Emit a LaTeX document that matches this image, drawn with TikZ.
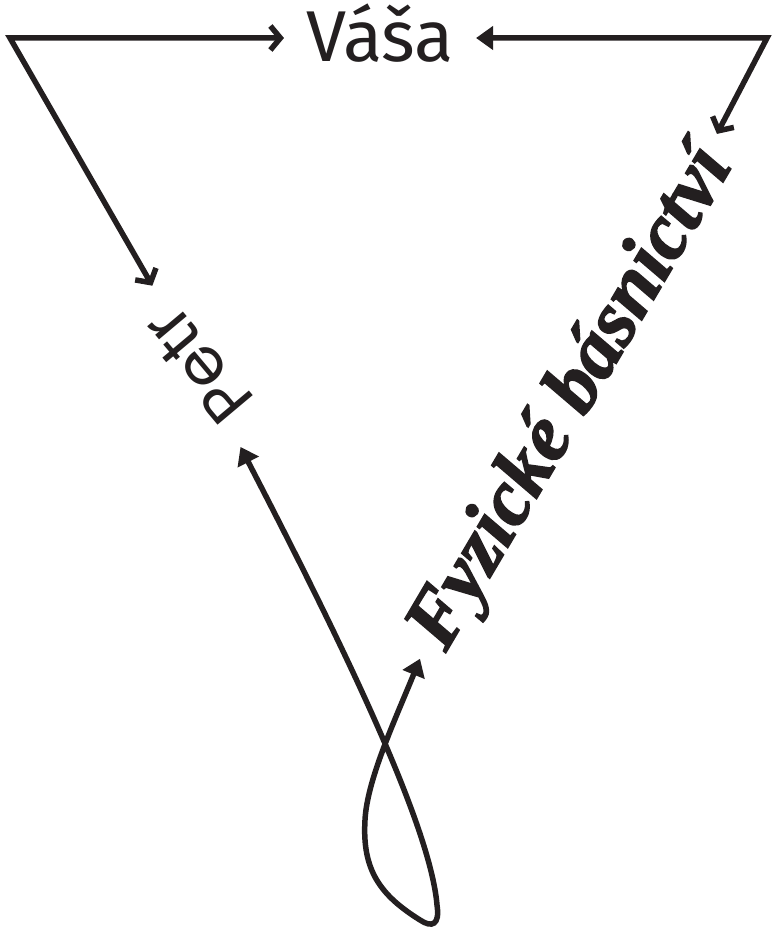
\documentclass[tikz,border=0pt]{standalone}
\usepackage{fontspec}
\usepackage{graphicx}
\usetikzlibrary{arrows.meta}
\newfontfamily\vasafont{Fira Sans}
\newfontfamily\petrfont{Poppins}
\newfontfamily\fyzfont{Liberation Serif}[BoldItalicFeatures={FakeBold=2}]
\definecolor{ink}{HTML}{231F20}
\tikzset{
  myline/.style={line width=5.5pt, draw=ink, line join=miter},
  barbtip/.tip={Straight Barb[length=10pt,width=24pt]},
  filltip/.tip={Triangle[length=17pt,width=23pt]},
  vasast/.style={text=ink, font=\vasafont\fontsize{72}{72}\selectfont,
    text height=48pt, text depth=0pt, inner xsep=22pt, inner ysep=0pt},
  petrst/.style={text=ink, font=\petrfont\fontsize{66}{66}\selectfont,
    inner xsep=26pt, inner ysep=6pt},
  fyzst/.style={text=ink, font=\fyzfont\bfseries\itshape\fontsize{80}{80}\selectfont,
    inner xsep=18pt, inner ysep=0pt}
}
\begin{document}
\begin{tikzpicture}[x=1pt,y=-1pt]
\useasboundingbox (0,0) rectangle (772,928);
\coordinate (cl) at (10,38);
\coordinate (cr) at (767,38);
\node[vasast] (vasa) at (380,38) {Váša};
\node[petrst, rotate=130] (petr) at (198,365) {Petr};
\node[fyzst, rotate=59.5] (fyz) at (573,399) {Fyzické básnictví};
\draw[myline, barbtip-barbtip] (vasa.west) -- (cl) -- (petr);
\draw[myline, filltip-barbtip] (vasa.east) -- (cr) -- (fyz.2);
\draw[myline, filltip-filltip]
  (petr) .. controls (330,620) and (430,820) .. (437,905)
  .. controls (440,925) and (432,928) .. (420,920)
  .. controls (380,895) and (362,870) .. (365,820)
  .. controls (367,780) and (395,720) .. (fyz.west);
\end{tikzpicture}
\end{document}
